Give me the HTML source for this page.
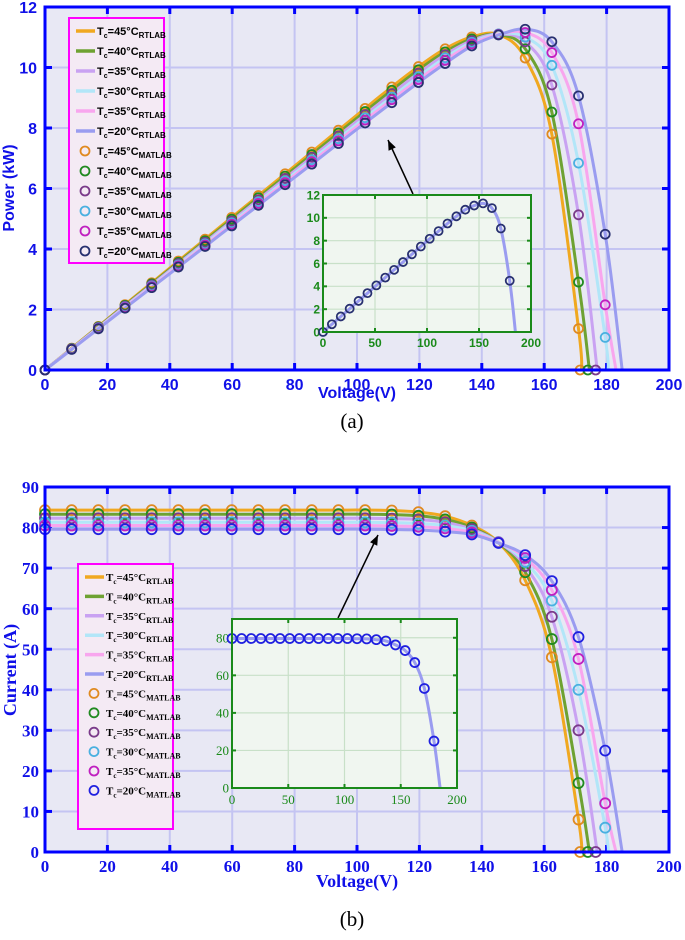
<!DOCTYPE html>
<html><head><meta charset="utf-8"><style>
body{margin:0;background:#fff;width:685px;height:940px;overflow:hidden}
svg{display:block}
</style></head><body>
<svg id="chart" width="685" height="940" xmlns="http://www.w3.org/2000/svg"></svg>
<script>
// ---- data ----
const voltageGrid = [0,8.55,17.1,25.65,34.2,42.75,51.3,59.85,68.4,76.95,85.5,94.05,102.6,111.15,119.7,128.25,136.8,145.35,153.9,162.45,171,179.55];
const seriesNames = ["Tc=45°C","Tc=40°C","Tc=35°C","Tc=30°C","Tc=35°C","Tc=20°C"];
const iscValues = [84.3,83.3,82.3,81.3,80.5,79.6];
const vocValues = [172,174.5,177,180.5,183,185];
const kneeCurrent45 = [84.2,83.8,82.8,80.5,76.3,67,48,8];
const kneeCurrent40 = [83.2,82.9,82.0,80.0,76.3,69,52.5,17];
const kneeCurrent35 = [82.2,82.0,81.3,79.6,76.4,70.5,58,30];
const kneeCurrent30 = [81.2,81.0,80.5,79.2,76.4,71.5,62,40,6];
const kneeCurrent35b = [80.4,80.2,79.8,78.8,76.3,72.5,64.6,47.6,12];
const kneeCurrent20 = [79.5,79.4,79.0,78.3,76.2,73.2,66.8,53,25];
const vocMarked = [true,true,true,false,false,false];
const xTicks = [0,20,40,60,80,100,120,140,160,180,200];
const powerTicks = [0,2,4,6,8,10,12];
const currentTicks = [0,10,20,30,40,50,60,70,80,90];
const insetXTicks = [0,50,100,150,200];
const insetPowerTicks = [0,2,4,6,8,10,12];
const insetCurrentTicks = [0,20,40,60,80];

const kneeSets=[kneeCurrent45,kneeCurrent40,kneeCurrent35,kneeCurrent30,kneeCurrent35b,kneeCurrent20];
const lineColors=["#f0a820","#6ea232","#c9a2f2","#b2e6f8","#f8a6ee","#9a9cf0"];
const markColorsA=["#e08a20","#208a20","#7a3a8a","#4ab0e0","#c020c0","#283070"];
const markColorsB=["#e08a20","#208a20","#7a3a8a","#4ab0e0","#c020c0","#2020e0"];

function buildSeries(s){
  const pts=[];
  for(let k=0;k<voltageGrid.length;k++){
    const v=voltageGrid[k];
    if(v>=vocValues[s]) break;
    const i = k<13 ? iscValues[s] : kneeSets[s][k-13];
    if(i===undefined) break;
    pts.push([v,i]);
  }
  return pts;
}
const NS="http://www.w3.org/2000/svg";
const svg=document.getElementById('chart');
function el(tag,attrs,parent,text){
  const e=document.createElementNS(NS,tag);
  for(const k in attrs) e.setAttribute(k,attrs[k]);
  if(text!==undefined) e.textContent=text;
  (parent||svg).appendChild(e);return e;
}
function smoothPath(p){
  let d="M"+p[0][0].toFixed(1)+","+p[0][1].toFixed(1);
  for(let i=0;i<p.length-1;i++){
    const p0=p[Math.max(0,i-1)],p1=p[i],p2=p[i+1],p3=p[Math.min(p.length-1,i+2)];
    const c1=[p1[0]+(p2[0]-p0[0])/6,p1[1]+(p2[1]-p0[1])/6];
    const c2=[p2[0]-(p3[0]-p1[0])/6,p2[1]-(p3[1]-p1[1])/6];
    d+=" C"+c1.map(n=>n.toFixed(1))+" "+c2.map(n=>n.toFixed(1))+" "+p2.map(n=>n.toFixed(1));
  }
  return d;
}

function panel(cfg){
  const g=el('g',{});
  
  
  const X=v=>cfg.x0+(v-cfg.xmin)/(cfg.xmax-cfg.xmin)*(cfg.x1-cfg.x0);
  const Y=v=>cfg.y1-(v-cfg.ymin)/(cfg.ymax-cfg.ymin)*(cfg.y1-cfg.y0);
  const bg=el('rect',{x:cfg.x0,y:cfg.y0,width:cfg.x1-cfg.x0,height:cfg.y1-cfg.y0,fill:cfg.bg},g);
  
  
  cfg.xt.forEach(t=>{
    el('line',{x1:X(t),x2:X(t),y1:cfg.y0,y2:cfg.y1,stroke:cfg.grid,'stroke-width':cfg.gw},g);
    const tl=el('text',{x:X(t),y:cfg.y1+cfg.xlo,'text-anchor':'middle',fill:cfg.tc,'font-size':cfg.fs,'font-weight':cfg.fw,'font-family':cfg.ff},g,String(t));
    
    
    el('line',{x1:X(t),x2:X(t),y1:cfg.y1,y2:cfg.y1-cfg.tl,stroke:cfg.ac,'stroke-width':cfg.aw},g);
    el('line',{x1:X(t),x2:X(t),y1:cfg.y0,y2:cfg.y0+cfg.tl,stroke:cfg.ac,'stroke-width':cfg.aw},g);
  });
  cfg.yt.forEach(t=>{
    el('line',{x1:cfg.x0,x2:cfg.x1,y1:Y(t),y2:Y(t),stroke:cfg.grid,'stroke-width':cfg.gw},g);
    const tl=el('text',{x:cfg.x0-cfg.ylo,y:Y(t)+cfg.fs*0.36,'text-anchor':'end',fill:cfg.tc,'font-size':cfg.fs,'font-weight':cfg.fw,'font-family':cfg.ff},g,String(t));
    
    
    el('line',{x1:cfg.x0,x2:cfg.x0+cfg.tl,y1:Y(t),y2:Y(t),stroke:cfg.ac,'stroke-width':cfg.aw},g);
    el('line',{x1:cfg.x1,x2:cfg.x1-cfg.tl,y1:Y(t),y2:Y(t),stroke:cfg.ac,'stroke-width':cfg.aw},g);
  });
  cfg.series.forEach(s=>{
    const pts=buildSeries(s);
    const val=p=>cfg.power? p[0]*p[1]/1000 : p[1];
    const linePts=pts.map(p=>[X(p[0]),Y(val(p))]);
    linePts.push([X(vocValues[s]),Y(0)]);
    const path=el('path',{d:smoothPath(linePts),fill:'none',stroke:lineColors[s],'stroke-width':cfg.lw},g);
    
    
  });
  cfg.series.forEach(s=>{
    const pts=buildSeries(s);
    const val=p=>cfg.power? p[0]*p[1]/1000 : p[1];
    const mc=cfg.mc[s];
    pts.forEach(p=>{
      const c=el('circle',{cx:X(p[0]),cy:Y(val(p)),r:cfg.mr,fill:'none',stroke:mc,'stroke-width':cfg.mw},g);
      
      
    });
    if(vocMarked[s] && !cfg.inset){
      const c=el('circle',{cx:X(vocValues[s]-0.5),cy:Y(0),r:cfg.mr,fill:'none',stroke:mc,'stroke-width':cfg.mw},g);
      
      
    }
  });
  el('rect',{x:cfg.x0,y:cfg.y0,width:cfg.x1-cfg.x0,height:cfg.y1-cfg.y0,fill:'none',stroke:cfg.ac,'stroke-width':cfg.aw},g);
  return g;
}

const all=[0,1,2,3,4,5];
panel({name:'power-chart',x0:45,x1:669,y0:7,y1:370,xmin:0,xmax:200,ymin:0,ymax:12,bg:'#e8e8f4',grid:'#c4c4f2',gw:2,
  xt:xTicks,yt:powerTicks,tc:'#1010e8',fs:16,fw:'bold',ff:'Liberation Sans, sans-serif',xlo:20,ylo:8,ac:'#0000ff',aw:3,tl:7,
  series:all,power:true,lw:3,mc:markColorsA,mr:4.5,mw:1.8});
panel({name:'current-chart',x0:45,x1:669,y0:487,y1:852,xmin:0,xmax:200,ymin:0,ymax:90,bg:'#e8e8f4',grid:'#c4c4f2',gw:2,
  xt:xTicks,yt:currentTicks,tc:'#1010e8',fs:17,fw:'bold',ff:'Liberation Serif, serif',xlo:20,ylo:6,ac:'#0000ff',aw:3,tl:7,
  series:all,power:false,lw:3,mc:markColorsB,mr:5,mw:1.8});

function arrow(x1,y1,x2,y2,name){
  const g=el('g',{});
  
  
  el('line',{x1:x1,y1:y1,x2:x2,y2:y2,stroke:'#000','stroke-width':1.5},g);
  const a=Math.atan2(y2-y1,x2-x1),L=10,w=4;
  const p=[[x2,y2],[x2-L*Math.cos(a)+w*Math.sin(a),y2-L*Math.sin(a)-w*Math.cos(a)],[x2-L*Math.cos(a)-w*Math.sin(a),y2-L*Math.sin(a)+w*Math.cos(a)]];
  el('polygon',{points:p.map(q=>q.join(',')).join(' '),fill:'#000'},g);
}
arrow(413,194,388,140,'zoom-arrow-a');
arrow(338,618,378,535,'zoom-arrow-b');

panel({name:'power-inset',inset:true,x0:323,x1:531,y0:195,y1:332,xmin:0,xmax:200,ymin:0,ymax:12,bg:'#f0f6f0',grid:'#c8e0c8',gw:1.2,
  xt:insetXTicks,yt:insetPowerTicks,tc:'#1a8a1a',fs:12,fw:'bold',ff:'Liberation Sans, sans-serif',xlo:15,ylo:3,ac:'#1a8a1a',aw:2,tl:4,
  series:[5],power:true,lw:3,mc:markColorsA,mr:4,mw:1.8});
panel({name:'current-inset',inset:true,x0:232,x1:457,y0:619,y1:788,xmin:0,xmax:200,ymin:0,ymax:90,bg:'#f0f6f0',grid:'#c8e0c8',gw:1.2,
  xt:insetXTicks,yt:insetCurrentTicks,tc:'#1a8a1a',fs:13,fw:'normal',ff:'Liberation Serif, serif',xlo:16,ylo:3,ac:'#1a8a1a',aw:2,tl:4,
  series:[5],power:false,lw:3,mc:markColorsB,mr:4.5,mw:1.8});

function legend(x,y,w,h,rowY0,dy,ff,name,mcols){
  const g=el('g',{});
  
  
  el('rect',{x:x,y:y,width:w,height:h,fill:'#f4eaf4',stroke:'#ff00ff','stroke-width':2},g);
  for(let r=0;r<12;r++){
    const s=r%6,yy=rowY0+r*dy;
    const e=el('g',{},g);
    
    
    if(r<6) el('line',{x1:x+7,x2:x+26,y1:yy,y2:yy,stroke:lineColors[s],'stroke-width':3.5},e);
    else el('circle',{cx:x+16,cy:yy,r:4.5,fill:'none',stroke:mcols[s],'stroke-width':1.8},e);
    const t=el('text',{x:x+28,y:yy+4,'font-size':11,'font-weight':'bold','font-family':ff,fill:'#000'},e);
    const name2=seriesNames[s].replace('Tc','');
    el('tspan',{},t,'T');
    el('tspan',{dy:3,'font-size':7},t,'c');
    el('tspan',{dy:-3},t,name2);
    el('tspan',{dy:3,'font-size':8},t,r<6?'RTLAB':'MATLAB');
  }
}
legend(69,18,95,245,31,20,'Liberation Sans, sans-serif','legend-a',markColorsA);
legend(78,564,95,265,577,19.4,'Liberation Serif, serif','legend-b',markColorsB);

function txt(x,y,s,attrs,name){
  const t=el('text',Object.assign({x:x,y:y,'text-anchor':'middle'},attrs),svg,s);
  
  
}
txt(357,398,'Voltage(V)',{'font-size':16,'font-weight':'bold',fill:'#1010e8','font-family':'Liberation Sans, sans-serif'},'x-axis-title-a');
txt(0,0,'Power (kW)',{'font-size':16,'font-weight':'bold',fill:'#1010e8','font-family':'Liberation Sans, sans-serif',transform:'translate(14,188) rotate(-90)'},'y-axis-title-a');
txt(352,428,'(a)',{'font-size':21,fill:'#000','font-family':'Liberation Serif, serif'},'panel-label-a');
txt(357,887,'Voltage(V)',{'font-size':18,'font-weight':'bold',fill:'#1010e8','font-family':'Liberation Serif, serif'},'x-axis-title-b');
txt(0,0,'Current (A)',{'font-size':18,'font-weight':'bold',fill:'#1010e8','font-family':'Liberation Serif, serif',transform:'translate(16,670) rotate(-90)'},'y-axis-title-b');
txt(352,926,'(b)',{'font-size':21,fill:'#000','font-family':'Liberation Serif, serif'},'panel-label-b');
</script>
</body></html>
